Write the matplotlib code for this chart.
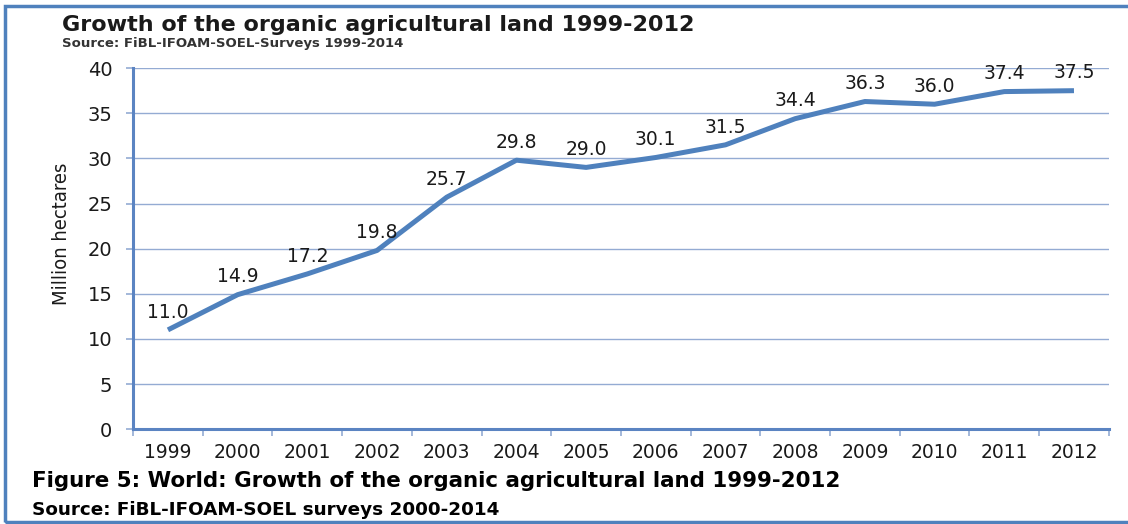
import matplotlib
matplotlib.use('Agg')
import matplotlib.pyplot as plt
from matplotlib.patches import Rectangle

plt.rcParams['font.family'] = ['DejaVu Sans']

years = ['1999', '2000', '2001', '2002', '2003', '2004', '2005',
         '2006', '2007', '2008', '2009', '2010', '2011', '2012']
hectares = [11.0, 14.9, 17.2, 19.8, 25.7, 29.8, 29.0,
            30.1, 31.5, 34.4, 36.3, 36.0, 37.4, 37.5]
y_ticks = [0, 5, 10, 15, 20, 25, 30, 35, 40]

line_color = '#4f81bd'
grid_color = '#94abd3'
spine_color = '#5b84c2'
text_color = '#1a1a1a'

fig = plt.figure(figsize=(11.28, 5.24), dpi=100)
ax = fig.add_axes([0.118, 0.181, 0.865, 0.689])

x = list(range(len(years)))
ax.plot(x, hectares, color=line_color, linewidth=3.6, solid_capstyle='butt', zorder=3)
for xi, v in zip(x, hectares):
    ax.annotate(f'{v:.1f}', (xi, v), xytext=(0, 6), textcoords='offset points',
                ha='center', va='bottom', fontsize=13.5, color=text_color, zorder=4)

ax.set_xlim(-0.5, len(years) - 0.5)
ax.set_ylim(0, 40)
ax.set_yticks(y_ticks)
ax.set_yticklabels([str(t) for t in y_ticks], fontsize=14, color=text_color)
ax.set_xticks(x)
ax.set_xticklabels(years, fontsize=13.5, color=text_color)
ax.tick_params(axis='x', length=0, pad=10)
ax.set_xticks([i - 0.5 for i in range(len(years) + 1)], minor=True)
ax.tick_params(axis='x', which='minor', length=5, width=1.2, color=grid_color)
ax.tick_params(axis='y', length=5, width=1.2, color=grid_color, pad=10)
ax.yaxis.grid(True, color=grid_color, linewidth=1.0)
ax.set_axisbelow(True)
for side in ['top', 'right']:
    ax.spines[side].set_visible(False)
for side in ['left', 'bottom']:
    ax.spines[side].set_color(spine_color)
    ax.spines[side].set_linewidth(2.2)

ax.set_ylabel('Million hectares', fontsize=14.5, color=text_color,
              fontstretch='condensed')
ax.yaxis.set_label_coords(-0.064, 0.54)

fig.text(0.055, 0.952, 'Growth of the organic agricultural land 1999-2012',
         fontsize=16, fontweight='bold', color=text_color, va='center')
fig.text(0.055, 0.917, 'Source: FiBL-IFOAM-SOEL-Surveys 1999-2014',
         fontsize=9.5, fontweight='bold', color='#333333', va='center')
fig.text(0.028, 0.082, 'Figure 5: World: Growth of the organic agricultural land 1999-2012',
         fontsize=15.4, fontweight='bold', color='black', va='center')
fig.text(0.028, 0.026, 'Source: FiBL-IFOAM-SOEL surveys 2000-2014',
         fontsize=13.2, fontweight='bold', color='black', va='center')

# blue page frame (open on the right)
fig.add_artist(Rectangle((0.004, 0.004), 1.2, 0.985, transform=fig.transFigure,
                         fill=False, edgecolor=line_color, linewidth=2.5))

fig.savefig('out.png', dpi=100)
